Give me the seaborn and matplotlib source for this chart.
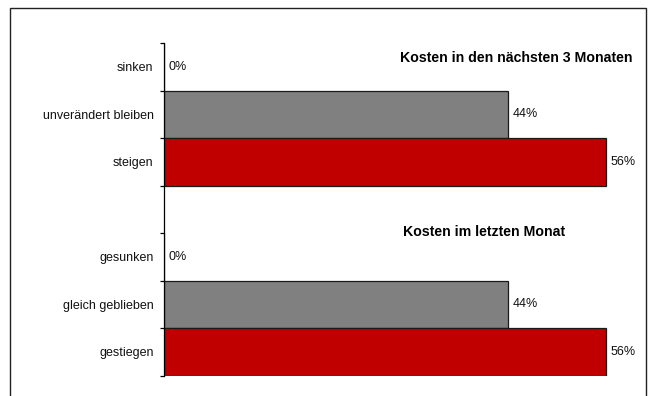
import matplotlib
matplotlib.use("Agg")
import matplotlib.pyplot as plt
from matplotlib.patches import Rectangle
from matplotlib.ticker import FixedLocator
import seaborn as sns
import pandas as pd

# --- data ---
categories = ["sinken", "unverändert bleiben", "steigen", " ",
              "gesunken", "gleich geblieben", "gestiegen"]
bar_categories = ["sinken", "unverändert bleiben", "steigen",
                  "gesunken", "gleich geblieben", "gestiegen"]
values = [0, 43.75, 56.25, 0, 43.75, 56.25]
bar_colors = ["#808080", "#808080", "#C00000", "#808080", "#808080", "#C00000"]
titles = ["Kosten in den nächsten 3 Monaten", "Kosten im letzten Monat"]

sns.set_theme(style="white")
plt.rcParams["font.family"] = ["Liberation Sans", "DejaVu Sans"]

W, H = 656, 396
fig = plt.figure(figsize=(W / 100, H / 100), dpi=100)
ax_left, ax_right = 164, 635.5
ax_top, ax_bottom = 43, 375.5
ax = fig.add_axes([ax_left / W, 1 - ax_bottom / H,
                   (ax_right - ax_left) / W, (ax_bottom - ax_top) / H])

df = pd.DataFrame({"cat": bar_categories, "val": values})
palette = dict(zip(bar_categories, bar_colors))
sns.barplot(data=df, x="val", y="cat", hue="cat", order=categories,
            hue_order=bar_categories, palette=palette, legend=False,
            width=1.0, edgecolor="#1a1a1a", linewidth=0.9, saturation=1,
            ax=ax)

ax.set_xlim(0, 60)
ax.set_ylim(len(categories) - 0.5, -0.5)
ax.set_xlabel("")
ax.set_ylabel("")
ax.set_xticks([])
ax.set_yticks(range(len(categories)))
ax.set_yticklabels(categories, fontsize=9, color="#111111")
ax.tick_params(axis="y", which="major", length=0, pad=7.5)
ax.yaxis.set_minor_locator(FixedLocator([i - 0.5 for i in range(len(categories) + 1)]))
ax.tick_params(axis="y", which="minor", length=3, width=0.9, color="black", left=True)

for s in ["top", "right", "bottom"]:
    ax.spines[s].set_visible(False)
ax.spines["left"].set_color("black")
ax.spines["left"].set_linewidth(0.9)

for cat, v in zip(bar_categories, values):
    ax.annotate(f"{v:.0f}%", xy=(v, categories.index(cat)), xytext=(3.5, 0),
                textcoords="offset points", va="center", ha="left",
                fontsize=9, color="#111111")

ax.text(0.500, 0.955, titles[0], transform=ax.transAxes, ha="left",
        va="center", fontsize=10.2, fontweight="bold", color="black")
ax.text(0.506, 0.4316, titles[1], transform=ax.transAxes, ha="left",
        va="center", fontsize=10.2, fontweight="bold", color="black")

fig.patches.append(Rectangle((10 / W, -0.1), (646 - 10) / W, 1 - 8 / H + 0.1,
                             transform=fig.transFigure, fill=False,
                             edgecolor="#222222", linewidth=1))

fig.savefig("out.png", dpi=100)
